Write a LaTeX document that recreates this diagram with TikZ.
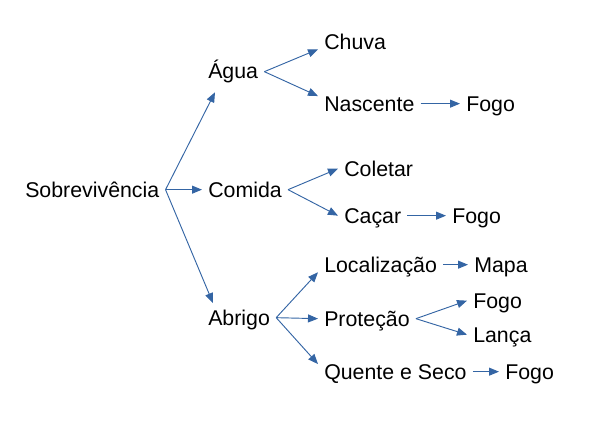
\documentclass[tikz,border=0pt]{standalone}
\usepackage{fontspec}
\setmainfont{Liberation Sans}
\usetikzlibrary{arrows.meta}
\definecolor{setaazul}{HTML}{3465A4}

\begin{document}
\begin{tikzpicture}[x=0.75pt,y=-0.75pt,
        item/.style={anchor=base west,inner xsep=4.5pt,inner ysep=0pt,text height=11pt,text depth=0pt,font=\fontsize{16}{19}\selectfont},
        seta/.style={-{Triangle[length=7.5pt,width=6pt]},line width=0.7pt,color=setaazul}]
        \useasboundingbox (0,0) rectangle (615,421);
        \node [item] (sob) at (19,197) {Sobrevivência};
        \node [item] (agua) at (202,79) {Água};
        \node [item] (comida) at (202,197) {Comida};
        \node [item] (abrigo) at (202,325) {Abrigo};
        \node [item] (chuva) at (318,49) {Chuva};
        \node [item] (nascente) at (318,111) {Nascente};
        \node [item] (fogo1) at (460,111) {Fogo};
        \node [item] (coletar) at (338,176) {Coletar};
        \node [item] (cacar) at (338,223) {Caçar};
        \node [item] (fogo2) at (446,223) {Fogo};
        \node [item] (local) at (318,272) {Localização};
        \node [item] (mapa) at (468,272) {Mapa};
        \node [item] (protecao) at (318,326) {Proteção};
        \node [item] (fogo3) at (467,308) {Fogo};
        \node [item] (lanca) at (467,342) {Lança};
        \node [item] (quente) at (318,379) {Quente e Seco};
        \node [item] (fogo4) at (499,379) {Fogo};
        \draw[seta] (sob.east) -- ([shift={(13,13)}]agua.south west);
        \draw[seta] (sob.east) -- (comida.west);
        \draw[seta] (sob.east) -- ([shift={(11,-7)}]abrigo.north west);
        \draw[seta] (agua.east) -- (chuva.south west);
        \draw[seta] (agua.east) -- (nascente.north west);
        \draw[seta] (nascente.east) -- (fogo1.west);
        \draw[seta] (comida.east) -- (coletar.west);
        \draw[seta] (comida.east) -- (cacar.west);
        \draw[seta] (cacar.east) -- (fogo2.west);
        \draw[seta] (abrigo.east) -- (local.south west);
        \draw[seta] (abrigo.east) -- (protecao.west);
        \draw[seta] (abrigo.east) -- (quente.north west);
        \draw[seta] (local.east) -- (mapa.west);
        \draw[seta] (protecao.east) -- (fogo3.west);
        \draw[seta] (protecao.east) -- (lanca.west);
        \draw[seta] (quente.east) -- (fogo4.west);
\end{tikzpicture}
\end{document}
